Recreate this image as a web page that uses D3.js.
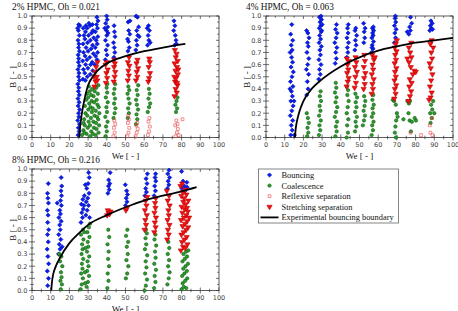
<!DOCTYPE html>
<html>
<head>
<meta charset="utf-8">
<script src="https://cdn.jsdelivr.net/npm/d3@7"></script>
<style>
  body { margin: 0; background: #fff; }
  svg { display: block; }
  .tick-label { font-family: "DejaVu Sans", sans-serif; font-size: 6.5px; fill: #444; }
  .axis-title, .panel-title, .legend-text { font-family: "Liberation Serif", serif; fill: #111; }
</style>
</head>
<body>
<div id="chart"></div>
<script>
// ---- data: [We, B] ----

// 2% HPMC
var p1Bouncing = [[24.6,0.02],[25.2,0.05],[24.8,0.08],[25.4,0.11],[24.5,0.14],[25.1,0.17],[24.9,0.2],[25.5,0.23],[24.7,0.26],[25.2,0.29],[24.6,0.32],[25.3,0.35],[24.8,0.38],[25.0,0.41],[24.5,0.44],[25.4,0.47],[24.9,0.5],[25.1,0.53],[24.6,0.56],[25.3,0.59],[24.8,0.62],[25.0,0.65],[24.7,0.68],[25.4,0.71],[24.9,0.74],[25.1,0.77],[24.6,0.8],[25.3,0.84],[24.8,0.88],[25.0,0.93],[24.4,0.9],[25.6,0.92],
  [27.2,0.48],[27.5,0.56],[27.1,0.63],[27.6,0.7],[27.3,0.77],[27.8,0.84],[27.4,0.9],[28.5,0.47],[28.2,0.53],[28.7,0.6],[28.4,0.67],[28.9,0.74],[28.3,0.81],[28.6,0.87],[28.8,0.92],[29.6,0.5],[29.9,0.57],[29.4,0.64],[30.0,0.71],[29.7,0.78],[30.2,0.84],[29.5,0.9],[30.4,0.94],[31.1,0.52],[31.4,0.6],[30.9,0.66],[31.6,0.73],[31.2,0.8],[31.8,0.86],[31.0,0.92],[32.5,0.55],[32.2,0.62],[32.8,0.69],[32.4,0.76],[33.0,0.82],[32.6,0.88],[32.3,0.93],[33.6,0.6],[34.0,0.67],[33.8,0.74],[34.3,0.8],[33.9,0.87],[34.5,0.93],[34.8,0.64],[35.1,0.7],[34.9,0.77],[35.2,0.83],[35.0,0.9],[35.3,0.96],[34.7,0.99],
  [39.2,0.64],[40.1,0.68],[39.6,0.72],[40.4,0.76],[39.3,0.8],[40.0,0.84],[39.8,0.88],[40.5,0.91],[39.4,0.94],[40.2,0.97],[39.9,1.0],[40.7,0.86],[38.9,0.9],
  [43.8,0.66],[44.3,0.7],[44.0,0.74],[43.6,0.78],[44.4,0.83],[44.1,0.87],[43.9,0.92],
  [51.3,0.71],[52.0,0.74],[51.6,0.79],[51.1,0.81],[52.3,0.85],[51.7,0.88],[51.4,0.95],[52.4,0.96],
  [55.5,0.72],[56.2,0.76],[55.8,0.8],[56.6,0.84],[56.0,0.88],[57.0,0.91],[56.4,0.99],[55.7,1.0],[57.3,0.83],
  [61.8,0.76],[62.5,0.8],[62.1,0.84],[62.8,0.88],[61.6,0.9],[63.2,0.78],[62.3,0.92],
  [76.3,0.76],[77.0,0.8],[76.6,0.84],[75.8,0.88],[76.4,0.92],[75.9,0.96],[77.2,0.77]];
var p1Coalescence = [[26.8,0.02],[27.5,0.06],[28.2,0.1],[27.9,0.15],[28.6,0.2],[28.3,0.26],[29.0,0.31],[29.4,0.36],[29.2,0.03],[29.8,0.08],[30.3,0.13],[29.6,0.18],[30.1,0.23],[30.6,0.28],[30.0,0.33],[30.8,0.38],[30.4,0.42],[31.2,0.01],[31.7,0.05],[31.0,0.1],[31.5,0.16],[32.0,0.21],[31.3,0.25],[31.9,0.3],[31.6,0.35],[32.2,0.4],[32.6,0.03],[33.1,0.08],[32.8,0.13],[33.4,0.18],[32.5,0.24],[33.2,0.29],[32.9,0.34],[33.5,0.38],[34.0,0.02],[34.5,0.07],[34.2,0.12],[34.8,0.17],[34.1,0.22],[35.0,0.27],[34.6,0.31],[35.2,0.36],[34.4,0.41],[35.6,0.04],[35.9,0.1],[35.4,0.15],[36.0,0.2],[35.7,0.25],[35.5,0.43],[28.0,0.04],[27.6,0.12],
  [39.3,0.01],[40.0,0.05],[39.6,0.09],[40.4,0.13],[39.2,0.17],[40.1,0.21],[39.8,0.25],[40.5,0.29],[39.5,0.33],[40.2,0.37],[39.9,0.41],[40.3,0.44],
  [43.6,0.16],[44.2,0.2],[44.6,0.24],[43.9,0.28],[44.4,0.32],[43.7,0.36],[44.1,0.4],[44.5,0.44],
  [51.2,0.16],[51.8,0.2],[51.4,0.24],[52.2,0.28],[51.6,0.32],[51.1,0.36],[52.0,0.39],[51.5,0.42],
  [55.6,0.11],[56.3,0.15],[55.9,0.19],[56.7,0.23],[56.1,0.27],[55.7,0.31],[56.5,0.35],[56.0,0.39],[56.8,0.43],
  [61.9,0.21],[62.6,0.25],[63.2,0.28],[62.3,0.32],[62.9,0.36],[62.5,0.4],
  [77.0,0.21],[77.6,0.24],[76.7,0.27],[77.3,0.3],[77.8,0.33]];
var p1Reflexive = [[43.5,0.01],[44.2,0.04],[43.8,0.08],[44.5,0.11],[44.0,0.14],
  [51.0,0.01],[51.6,0.04],[52.0,0.08],[51.3,0.12],[51.8,0.15],[51.5,0.18],
  [55.4,0.01],[56.0,0.04],[56.5,0.07],[55.8,0.1],[56.3,0.12],
  [62.0,0.02],[62.6,0.05],[63.0,0.09],[62.3,0.13],[62.8,0.16],
  [76.8,0.01],[77.5,0.04],[78.0,0.07],[76.6,0.1],[77.2,0.14],[78.4,0.02],[80.5,0.15],[77.8,0.11]];
var p1Stretching = [[33.4,0.42],[34.0,0.46],[34.6,0.5],[33.8,0.54],[34.3,0.58],[35.0,0.62],[34.9,0.47],[33.2,0.5],
  [39.5,0.45],[40.2,0.49],[39.8,0.53],[40.5,0.56],[39.4,0.6],[40.0,0.62],
  [43.7,0.46],[44.2,0.5],[44.5,0.54],[43.9,0.58],[44.3,0.61],[44.0,0.64],
  [51.2,0.47],[51.8,0.51],[51.5,0.55],[52.1,0.59],[51.3,0.62],[51.9,0.66],
  [55.6,0.47],[56.3,0.5],[56.0,0.54],[56.7,0.57],[55.9,0.61],[56.4,0.64],
  [62.2,0.46],[62.6,0.49],[63.1,0.53],[62.4,0.58],[63.0,0.62],[62.7,0.65],
  [76.2,0.34],[77.4,0.37],[76.8,0.4],[77.8,0.43],[76.5,0.46],[77.1,0.49],[78.0,0.52],[76.7,0.55],[77.5,0.58],[76.3,0.61],[77.9,0.63],[76.9,0.66],[77.3,0.69],[76.4,0.72],[78.2,0.56],[77.6,0.45],[76.1,0.5]];
var p1Boundary = [[25.3,0],[25.7,0.08],[26.3,0.16],[27,0.23],[28,0.31],[30,0.43],[32.5,0.5],[35,0.55],[40,0.61],[45,0.645],[50,0.67],[60,0.71],[70,0.74],[82,0.77]];

// 4% HPMC
var p2Bouncing = [[13.2,0.02],[14.0,0.06],[13.5,0.1],[14.3,0.14],[13.0,0.18],[13.8,0.22],[14.5,0.26],[13.3,0.3],[14.1,0.34],[13.6,0.38],[14.4,0.42],[13.1,0.46],[13.9,0.5],[14.6,0.54],[13.4,0.58],[14.2,0.62],[13.7,0.66],[12.9,0.7],[14.0,0.72],[13.5,0.76],[14.3,0.8],[13.2,0.85],[13.8,0.93],[15.2,0.02],[15.0,0.3],[12.8,0.4],
  [21.8,0.35],[22.5,0.4],[22.1,0.46],[22.8,0.52],[21.6,0.56],[22.3,0.6],[22.9,0.65],[21.9,0.7],[22.6,0.75],[22.2,0.78],[23.0,0.82],[22.4,0.86],[21.7,0.88],
  [28.2,0.48],[29.0,0.52],[28.6,0.56],[29.4,0.6],[28.3,0.64],[29.1,0.68],[28.8,0.72],[29.6,0.75],[28.4,0.78],[29.2,0.81],[28.7,0.84],[29.5,0.87],[28.5,0.9],[29.3,0.92],[28.9,0.95],[29.7,0.97],[28.6,0.99],[29.4,1.0],[30.0,0.93],[29.8,0.88],
  [37.0,0.61],[37.6,0.65],[37.3,0.7],[37.9,0.74],[36.8,0.78],[37.5,0.82],[38.1,0.86],[37.2,0.89],[37.7,0.93],
  [43.2,0.66],[43.8,0.7],[43.5,0.74],[44.1,0.78],[43.3,0.82],[43.9,0.86],[43.6,0.9],[44.0,0.93],
  [47.5,0.72],[48.2,0.76],[47.8,0.8],[48.5,0.84],[47.6,0.88],[48.0,0.9],
  [52.3,0.78],[52.8,0.82],[52.5,0.87],[53.0,0.9],[52.2,0.94],
  [56.4,0.7],[57.2,0.73],[56.8,0.76],[57.5,0.79],[56.6,0.82],[57.3,0.84],[57.0,0.86],[57.6,0.88],[56.9,0.9],[57.4,0.91],[56.7,0.74],
  [68.6,0.78],[69.3,0.82],[68.9,0.86],[69.6,0.89],[68.7,0.92],[69.4,0.95],[69.0,0.98],[69.2,1.0],
  [76.4,0.85],[77.2,0.88],[76.8,0.91],[77.9,0.94],[77.3,0.99],[75.5,0.87],
  [87.6,0.88],[88.4,0.9],[88.9,0.94],[88.2,0.96],[87.9,0.92],[89.1,0.89]];
var p2Coalescence = [[22.0,0.01],[22.6,0.04],[22.2,0.08],[22.9,0.12],[22.4,0.16],[21.8,0.2],
  [28.3,0.02],[29.0,0.06],[28.6,0.1],[29.3,0.14],[28.4,0.18],[29.1,0.22],[28.7,0.26],[29.4,0.3],[28.8,0.34],[29.2,0.38],
  [37.1,0.01],[37.8,0.05],[37.4,0.09],[38.0,0.13],[36.8,0.17],[37.5,0.21],[38.1,0.25],[37.2,0.29],[37.7,0.33],[36.9,0.37],[37.6,0.41],[37.3,0.45],
  [43.1,0.0],[43.8,0.04],[43.4,0.1],[44.0,0.15],[43.2,0.2],[43.7,0.25],[44.2,0.3],[43.5,0.35],[43.9,0.39],[43.3,0.42],
  [47.6,0.05],[48.3,0.09],[47.9,0.13],[48.6,0.17],[47.7,0.21],[48.4,0.25],[48.0,0.29],[48.7,0.33],[47.8,0.36],
  [51.8,0.1],[52.4,0.14],[52.9,0.18],[52.2,0.22],[52.7,0.26],[53.1,0.3],[52.5,0.34],
  [56.5,0.02],[57.2,0.06],[56.8,0.1],[57.5,0.13],[56.6,0.17],[57.3,0.2],[57.0,0.24],[57.6,0.27],[56.9,0.31],[57.4,0.35],
  [67.8,0.31],[68.5,0.3],[69.4,0.27],[70.0,0.2],[69.6,0.14],[69.2,0.09],[68.9,0.04],[69.5,0.0],[70.4,0.17],
  [75.6,0.3],[76.4,0.28],[77.0,0.3],[73.5,0.15],[76.8,0.14],[78.0,0.13],[79.5,0.16],[77.5,0.05],[76.2,0.2],[80.2,0.14],
  [88.0,0.12],[88.6,0.16],[87.8,0.2],[88.9,0.23],[88.3,0.27],[89.4,0.3],[90.0,0.2]];
var p2Reflexive = [[77.3,0.04],[82.9,0.02],[87.6,0.1],[88.8,0.16],[87.9,0.04],[89.0,0.02]];
var p2Stretching = [[43.1,0.42],[43.7,0.46],[44.2,0.49],[43.4,0.53],[44.0,0.56],[43.6,0.6],[44.3,0.63],[43.2,0.65],
  [47.4,0.41],[48.1,0.45],[47.8,0.5],[48.6,0.54],[47.6,0.58],[48.3,0.62],[47.9,0.66],
  [52.2,0.4],[52.8,0.44],[52.5,0.49],[53.1,0.53],[52.3,0.58],[52.9,0.63],[52.6,0.68],
  [56.5,0.36],[57.2,0.4],[56.9,0.44],[57.6,0.48],[56.6,0.52],[57.3,0.56],[57.0,0.6],[57.7,0.64],[56.8,0.68],[58.2,0.66],
  [68.6,0.32],[69.3,0.36],[68.9,0.4],[69.6,0.43],[68.7,0.47],[69.4,0.5],[69.0,0.54],[69.7,0.57],[68.8,0.61],[69.5,0.64],[69.1,0.68],[69.8,0.71],[68.9,0.74],[69.4,0.77],[70.0,0.8],
  [76.2,0.3],[77.0,0.34],[77.6,0.38],[76.6,0.42],[77.9,0.45],[76.9,0.48],[78.5,0.52],[79.3,0.55],[77.4,0.58],[76.5,0.62],[77.8,0.66],[77.1,0.7],[76.4,0.74],[77.7,0.78],[80.1,0.54],[75.6,0.65],
  [87.2,0.31],[88.0,0.33],[88.6,0.37],[87.7,0.42],[88.3,0.47],[89.0,0.52],[88.1,0.57],[87.5,0.61],[88.8,0.65],[88.4,0.7],[89.4,0.74],[87.9,0.77],[88.6,0.8]];
var p2Boundary = [[15.5,0],[15.8,0.06],[16.5,0.13],[18,0.22],[20,0.3],[25,0.41],[30,0.48],[40,0.585],[50,0.66],[60,0.715],[70,0.75],[80,0.78],[90,0.8],[100,0.82]];

// 8% HPMC
var p3Bouncing = [[8.4,0.04],[8.8,0.1],[8.2,0.16],[8.9,0.22],[8.5,0.28],[8.1,0.34],[8.7,0.4],[8.3,0.46],[8.9,0.5],[8.4,0.56],[8.6,0.62],[8.2,0.66],[8.8,0.72],[8.5,0.76],[8.3,0.8],[8.7,0.88],
  [14.2,0.3],[15.0,0.34],[14.6,0.38],[15.4,0.42],[14.3,0.46],[15.1,0.5],[14.8,0.54],[15.6,0.57],[14.4,0.6],[15.2,0.63],[14.9,0.66],[15.7,0.7],[15.3,0.74],[15.8,0.78],[15.5,0.82],[15.9,0.86],[15.6,0.93],[13.5,0.72],[16.1,0.36],
  [26.2,0.56],[27.0,0.6],[26.6,0.64],[27.4,0.67],[26.4,0.71],[27.2,0.75],[28.0,0.78],[28.8,0.62],[29.5,0.66],[30.2,0.7],[29.0,0.73],[29.8,0.76],[30.5,0.8],[29.3,0.84],[30.0,0.88],[30.6,0.93],[30.3,0.97],[28.5,0.87],[30.8,0.6],[27.8,0.7],
  [40.6,0.8],[41.3,0.83],[40.9,0.86],[41.6,0.88],[41.0,0.91],[41.8,0.97],
  [50.0,0.7],[50.8,0.73],[50.4,0.76],[51.1,0.79],[50.6,0.82],[49.9,0.87],
  [60.4,0.78],[61.2,0.81],[60.8,0.84],[61.5,0.88],[61.0,0.92],[61.7,0.96],
  [65.3,0.78],[66.0,0.82],[65.6,0.86],[66.2,0.9],[65.8,0.93],[66.1,0.96],
  [72.4,0.84],[73.2,0.87],[72.8,0.9],[73.6,0.93],[72.6,0.96],[73.3,0.99],
  [80.2,0.84],[81.5,0.86],[82.8,0.89],[80.8,0.9],[83.0,0.85],[80.0,0.98],[81.9,0.82]];
var p3Coalescence = [[15.4,0.01],[16.0,0.05],[15.2,0.08],[15.8,0.11],[15.5,0.15],[16.2,0.2],[15.0,0.24],[15.7,0.28],[14.6,0.3],
  [26.0,0.01],[26.6,0.05],[27.2,0.1],[26.3,0.14],[27.0,0.18],[26.7,0.22],[27.4,0.26],[26.5,0.3],[27.1,0.34],[26.8,0.38],[27.5,0.42],[26.2,0.46],[27.3,0.5],
  [29.2,0.03],[29.9,0.07],[30.5,0.12],[29.5,0.16],[30.2,0.2],[29.7,0.24],[30.6,0.28],[29.4,0.32],[30.1,0.36],[29.8,0.4],[30.7,0.44],[29.6,0.48],[30.4,0.52],[28.3,0.15],[28.6,0.35],[28.0,0.48],[31.0,0.55],[28.4,0.06],
  [40.3,0.02],[40.9,0.08],[40.5,0.14],[41.2,0.2],[40.7,0.26],[41.0,0.32],[40.4,0.38],[41.3,0.44],[40.8,0.5],
  [50.2,0.1],[50.9,0.14],[51.5,0.2],[50.5,0.25],[51.2,0.3],[50.7,0.36],[51.4,0.4],[50.3,0.45],[51.0,0.5],
  [60.2,0.0],[60.9,0.04],[61.5,0.09],[60.5,0.14],[61.2,0.19],[60.8,0.24],[61.6,0.29],[60.4,0.34],[61.1,0.38],[60.7,0.43],[61.4,0.47],[60.9,0.5],
  [65.3,0.02],[66.0,0.07],[65.6,0.12],[66.3,0.17],[65.4,0.22],[66.1,0.27],[65.8,0.32],[66.4,0.37],[65.5,0.42],[66.0,0.46],
  [72.4,0.05],[73.1,0.1],[73.6,0.15],[72.8,0.2],[73.3,0.25],[72.6,0.3],[73.4,0.35],[72.9,0.4],
  [80.0,0.01],[81.2,0.03],[82.5,0.02],[80.6,0.06],[81.9,0.08],[83.0,0.1],[80.3,0.12],[81.5,0.14],[82.8,0.16],[80.9,0.18],[82.1,0.2],[83.4,0.22],[80.5,0.24],[81.7,0.26],[82.9,0.28],[81.0,0.3],[82.4,0.32],[83.6,0.33]];
var p3Reflexive = [];
var p3Stretching = [[40.2,0.62],[40.9,0.64],[41.5,0.63],[42.0,0.65],[40.6,0.66],
  [50.2,0.66],[50.8,0.68],
  [60.2,0.5],[61.0,0.54],[60.6,0.58],[61.4,0.62],[60.4,0.66],[61.2,0.7],[60.8,0.74],[61.6,0.77],
  [65.4,0.48],[66.1,0.52],[65.7,0.56],[66.3,0.6],[65.5,0.64],[66.0,0.68],[65.8,0.72],[66.2,0.76],
  [72.3,0.42],[73.1,0.46],[72.7,0.5],[73.5,0.54],[72.5,0.58],[73.2,0.62],[72.9,0.66],[73.6,0.7],[72.6,0.74],[73.3,0.78],[72.1,0.82],
  [79.6,0.33],[80.8,0.36],[82.0,0.35],[83.1,0.38],[80.2,0.4],[81.5,0.42],[82.7,0.44],[79.9,0.46],[81.1,0.48],[82.4,0.5],[83.5,0.52],[80.5,0.53],[81.8,0.55],[83.0,0.57],[79.7,0.58],[81.2,0.6],[82.5,0.62],[80.4,0.64],[83.3,0.65],[81.6,0.67],[80.0,0.69],[82.2,0.71],[80.9,0.73],[83.6,0.74],[81.3,0.76],[79.8,0.78],[82.6,0.79],[80.6,0.81],[81.9,0.83],[79.4,0.86],[80.3,0.88],[82.9,0.68],[84.0,0.6]];
var p3Boundary = [[10.3,0],[10.6,0.06],[11.3,0.13],[12.5,0.19],[15,0.27],[20,0.39],[25,0.47],[30,0.54],[40,0.62],[50,0.685],[60,0.74],[70,0.78],[80,0.815],[88,0.85]];

var panelTitles = ['2% HPMC, Oh = 0.021', '4% HPMC, Oh = 0.063', '8% HPMC, Oh = 0.216'];
var legendLabels = ['Bouncing', 'Coalescence', 'Reflexive separation', 'Stretching separation', 'Experimental bouncing boundary'];
var xTicks = [0, 10, 20, 30, 40, 50, 60, 70, 80, 90, 100];
var yTicks = [0, 0.1, 0.2, 0.3, 0.4, 0.5, 0.6, 0.7, 0.8, 0.9, 1.0];

(function() {
    'use strict';

    var W = 458, H = 311;
    var svg = d3.select('#chart').append('svg')
        .attr('width', W).attr('height', H)
        .attr('viewBox', [0, 0, W, H].join(' '));

    // marker styles, one per regime (diamond = square turned 45deg)
    var styles = [
        { type: d3.symbolSquare, size: 9, fill: '#0a1cf0', stroke: '#0010b0', rot: 45 },
        { type: d3.symbolCircle, size: 9, fill: '#2f9a2f', stroke: '#0b5e0b', rot: 0 },
        { type: d3.symbolSquare, size: 8, fill: 'none', stroke: '#e8474a', rot: 0 },
        { type: d3.symbolTriangle, size: 12, fill: '#f21010', stroke: '#c00000', rot: 180 }
    ];

    var panels = [
        { left: 32, top: 16, title: panelTitles[0], series: [p1Bouncing, p1Coalescence, p1Reflexive, p1Stretching], boundary: p1Boundary },
        { left: 266, top: 16, title: panelTitles[1], series: [p2Bouncing, p2Coalescence, p2Reflexive, p2Stretching], boundary: p2Boundary },
        { left: 32, top: 169, title: panelTitles[2], series: [p3Bouncing, p3Coalescence, p3Reflexive, p3Stretching], boundary: p3Boundary }
    ];
    var pw = 187, ph = 121.5;

    panels.forEach(function(p) {
        var x = d3.scaleLinear().domain([0, 100]).range([0, pw]);
        var y = d3.scaleLinear().domain([0, 1]).range([ph, 0]);
        var g = svg.append('g').attr('transform', 'translate(' + p.left + ',' + p.top + ')');

        // frame
        g.append('rect').attr('width', pw).attr('height', ph)
            .attr('fill', 'none').attr('stroke', '#333').attr('stroke-width', 0.8);

        // ticks on all four sides
        var tickG = g.append('g').attr('stroke', '#333').attr('stroke-width', 0.7);
        d3.range(0, 101, 5).forEach(function(v) {
            var len = v % 10 === 0 ? 3 : 1.8;
            tickG.append('line').attr('x1', x(v)).attr('x2', x(v)).attr('y1', ph + len).attr('y2', ph - len);
            tickG.append('line').attr('x1', x(v)).attr('x2', x(v)).attr('y1', 0).attr('y2', len);
        });
        d3.range(0, 21).forEach(function(i) {
            var v = i / 20, len = i % 2 === 0 ? 3 : 1.8;
            tickG.append('line').attr('x1', -len).attr('x2', len).attr('y1', y(v)).attr('y2', y(v));
            tickG.append('line').attr('x1', pw).attr('x2', pw - len).attr('y1', y(v)).attr('y2', y(v));
        });

        g.selectAll('.xl').data(xTicks).join('text')
            .attr('class', 'tick-label')
            .attr('x', function(d) { return x(d); })
            .attr('y', ph + 9.5)
            .attr('text-anchor', 'middle')
            .text(function(d) { return d; });
        g.selectAll('.yl').data(yTicks).join('text')
            .attr('class', 'tick-label')
            .attr('x', -4.5)
            .attr('y', function(d) { return y(d) + 2.3; })
            .attr('text-anchor', 'end')
            .text(d3.format('.1f'));

        // axis titles
        g.append('text').attr('class', 'axis-title')
            .attr('x', pw / 2).attr('y', ph + 21)
            .attr('text-anchor', 'middle').attr('font-size', 9)
            .text('We [ - ]');
        g.append('text').attr('class', 'axis-title')
            .attr('transform', 'translate(-16,' + (ph / 2) + ') rotate(-90)')
            .attr('text-anchor', 'middle').attr('font-size', 9)
            .text('B [ - ]');
        g.append('text').attr('class', 'panel-title')
            .attr('x', -20).attr('y', -6)
            .attr('font-size', 9.3)
            .text(p.title);

        // points
        var clip = 'clip' + p.left + p.top;
        g.append('clipPath').attr('id', clip).append('rect')
            .attr('x', -3).attr('y', -3).attr('width', pw + 6).attr('height', ph + 6);
        var pts = g.append('g').attr('clip-path', 'url(#' + clip + ')');
        p.series.forEach(function(data, si) {
            var st = styles[si];
            var sym = d3.symbol().type(st.type).size(st.size);
            pts.selectAll('.s' + si).data(data).join('path')
                .attr('d', sym)
                .attr('transform', function(d) {
                    return 'translate(' + x(d[0]) + ',' + y(d[1]) + ')' + (st.rot ? ' rotate(' + st.rot + ')' : '');
                })
                .attr('fill', st.fill)
                .attr('stroke', st.stroke)
                .attr('stroke-width', 0.6);
        });

        // boundary curve
        var line = d3.line()
            .x(function(d) { return x(d[0]); })
            .y(function(d) { return y(d[1]); })
            .curve(d3.curveMonotoneX);
        g.append('path').datum(p.boundary)
            .attr('d', line)
            .attr('fill', 'none').attr('stroke', '#000').attr('stroke-width', 1.8);
    });

    // legend
    var lg = svg.append('g').attr('transform', 'translate(258.5,169)');
    lg.append('rect').attr('width', 140).attr('height', 54)
        .attr('fill', '#fff').attr('stroke', '#666').attr('stroke-width', 0.8);
    legendLabels.forEach(function(label, i) {
        var cy = 6 + i * 10.6;
        if (i < 4) {
            var st = styles[i];
            lg.append('path')
                .attr('d', d3.symbol().type(st.type).size(st.size)())
                .attr('transform', 'translate(11,' + cy + ')' + (st.rot ? ' rotate(' + st.rot + ')' : ''))
                .attr('fill', st.fill).attr('stroke', st.stroke).attr('stroke-width', 0.6);
        } else {
            lg.append('line').attr('x1', 2).attr('x2', 20).attr('y1', cy).attr('y2', cy)
                .attr('stroke', '#000').attr('stroke-width', 1.8);
        }
        lg.append('text').attr('class', 'legend-text')
            .attr('x', 23).attr('y', cy + 3)
            .attr('font-size', 8.4)
            .text(label);
    });
})();
</script>
</body>
</html>
